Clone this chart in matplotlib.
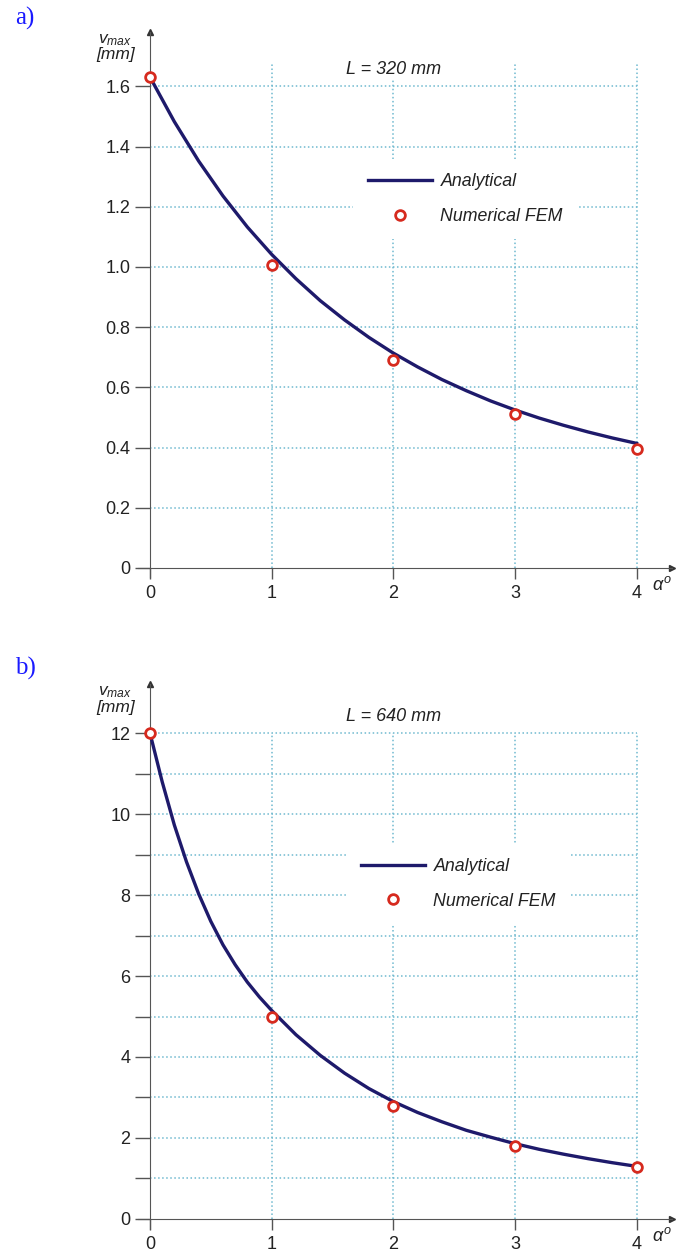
import numpy as np
import matplotlib
matplotlib.use('Agg')
import matplotlib.pyplot as plt

plt.rcParams['font.family'] = ['Liberation Sans', 'DejaVu Sans']
plt.rcParams['mathtext.fontset'] = 'custom'
plt.rcParams['mathtext.it'] = 'Liberation Sans:italic'
plt.rcParams['mathtext.rm'] = 'Liberation Sans'

# a) L = 320 mm  (values read off the picture)
a_x_an = [0, 0.2, 0.4, 0.6, 0.8, 1.0, 1.2, 1.4, 1.6, 1.8, 2.0,
          2.2, 2.4, 2.6, 2.8, 3.0, 3.2, 3.4, 3.6, 3.8, 4.0]
a_y_an = [1.631, 1.483, 1.352, 1.236, 1.133, 1.042, 0.961, 0.888, 0.824, 0.766, 0.714,
          0.668, 0.626, 0.589, 0.555, 0.525, 0.498, 0.474, 0.452, 0.432, 0.414]
a_x_fem = [0, 1, 2, 3, 4]
a_y_fem = [1.63, 1.005, 0.69, 0.51, 0.395]
a_yticks = [0, 0.2, 0.4, 0.6, 0.8, 1.0, 1.2, 1.4, 1.6]
a_ylabels = ['0', '0.2', '0.4', '0.6', '0.8', '1.0', '1.2', '1.4', '1.6']

# b) L = 640 mm
b_x_an = [0, 0.1, 0.2, 0.3, 0.4, 0.5, 0.6, 0.7, 0.8, 0.9, 1.0,
          1.2, 1.4, 1.6, 1.8, 2.0, 2.2, 2.4, 2.6, 2.8, 3.0,
          3.2, 3.4, 3.6, 3.8, 4.0]
b_y_an = [12.0, 10.80, 9.73, 8.82, 8.03, 7.35, 6.77, 6.28, 5.85, 5.48, 5.15,
          4.55, 4.04, 3.60, 3.22, 2.90, 2.63, 2.40, 2.19, 2.02, 1.86,
          1.72, 1.60, 1.49, 1.39, 1.30]
b_x_fem = [0, 1, 2, 3, 4]
b_y_fem = [12.0, 5.0, 2.8, 1.8, 1.28]
b_yticks = [0, 2, 4, 6, 8, 10, 12]
b_ylabels = ['0', '2', '4', '6', '8', '10', '12']
b_yminor = [1, 3, 5, 7, 9, 11]

xticks = [0, 1, 2, 3, 4]

line_col = '#1e1a6b'
fem_col = '#d62a1e'
grid_col = '#6fb9cf'
axis_col = '#555555'
txt_col = '#222222'

fig = plt.figure(figsize=(6.85, 12.59), dpi=100)
ax1 = fig.add_axes([0.2012, 0.5417, 0.7796, 0.4327])
ax2 = fig.add_axes([0.2012, 0.02375, 0.7796, 0.4326])


def draw_panel(ax, x_an, y_an, x_fem, y_fem, yticks, ylabels, yminor, ylim, gtop, title, ty, leg_pos):
    ax.set_xlim(-0.1, 4.29)
    ax.set_ylim(*ylim)
    for s in ['top', 'right']:
        ax.spines[s].set_visible(False)
    ax.spines['left'].set_position(('data', 0))
    ax.spines['bottom'].set_position(('data', 0))
    ax.spines['left'].set_color(axis_col)
    ax.spines['bottom'].set_color(axis_col)

    ax.set_xticks(xticks)
    ax.set_yticks(yticks)
    ax.set_yticklabels(ylabels)
    if yminor:
        ax.set_yticks(yminor, minor=True)
    ax.tick_params(axis='y', which='both', direction='out', length=11, width=1,
                   color=axis_col, labelsize=13, pad=3, labelcolor=txt_col)
    ax.tick_params(axis='x', direction='out', length=8, width=1,
                   color=axis_col, labelsize=13, pad=4, labelcolor=txt_col)

    # grid only over the data range
    hl = [v for v in list(yticks) + list(yminor) if v > 0]
    ax.hlines(hl, 0, 4, colors=grid_col, linestyles=':', lw=1.1, zorder=0)
    ax.vlines(xticks[1:], 0, gtop, colors=grid_col, linestyles=':', lw=1.1, zorder=0)

    # axis arrows
    ax.plot(1, 0, '>', color='#333333', ms=4, transform=ax.get_yaxis_transform(), clip_on=False)
    ax.plot(0, 1, '^', color='#333333', ms=4, transform=ax.get_xaxis_transform(), clip_on=False)

    ax.plot(x_an, y_an, color=line_col, lw=2.4, label='Analytical', zorder=3, clip_on=False,
            solid_joinstyle='round')
    ax.plot(x_fem, y_fem, 'o', ms=7, mfc='white', mec=fem_col, mew=2, label='Numerical FEM',
            zorder=4, clip_on=False)

    ax.text(2.0, ty, title, ha='center', va='center', fontsize=13, style='italic', color=txt_col,
            bbox=dict(facecolor='white', edgecolor='none', pad=1), zorder=2)

    ax.annotate('$v_{max}$\n[mm]', xy=(0, 1), xycoords=ax.get_xaxis_transform(),
                xytext=(-25, 0), textcoords='offset points', ha='center', va='top',
                fontsize=12.5, style='italic', color=txt_col, linespacing=0.95)
    ax.annotate(r'$\alpha^o$', xy=(4.21, 0), xycoords='data',
                xytext=(0, -12), textcoords='offset points', ha='center', va='center',
                fontsize=13, color=txt_col)

    leg = ax.legend(loc='center', bbox_to_anchor=leg_pos, frameon=True, fontsize=12.8,
                    handlelength=3.65, handletextpad=0.45, labelspacing=1.0, borderpad=0.8,
                    numpoints=1)
    leg.get_frame().set_facecolor('white')
    leg.get_frame().set_edgecolor('none')
    leg.get_frame().set_alpha(1)
    for t in leg.get_texts():
        t.set_style('italic')
        t.set_color(txt_col)


draw_panel(ax1, a_x_an, a_y_an, a_x_fem, a_y_fem, a_yticks, a_ylabels, [],
           (-0.03, 1.78), 1.68, 'L = 320 mm', 1.655, (0.613, 0.694))
draw_panel(ax2, b_x_an, b_y_an, b_x_fem, b_y_fem, b_yticks, b_ylabels, b_yminor,
           (-0.25, 13.2), 12, 'L = 640 mm', 12.4, (0.600, 0.634))

fig.text(15 / 685, 1 - 18 / 1259, 'a)', fontsize=18, color='#1a1aff', family='Liberation Serif',
         va='center', ha='left')
fig.text(15 / 685, 1 - 668 / 1259, 'b)', fontsize=18, color='#1a1aff', family='Liberation Serif',
         va='center', ha='left')

fig.savefig('out.png', dpi=100)
